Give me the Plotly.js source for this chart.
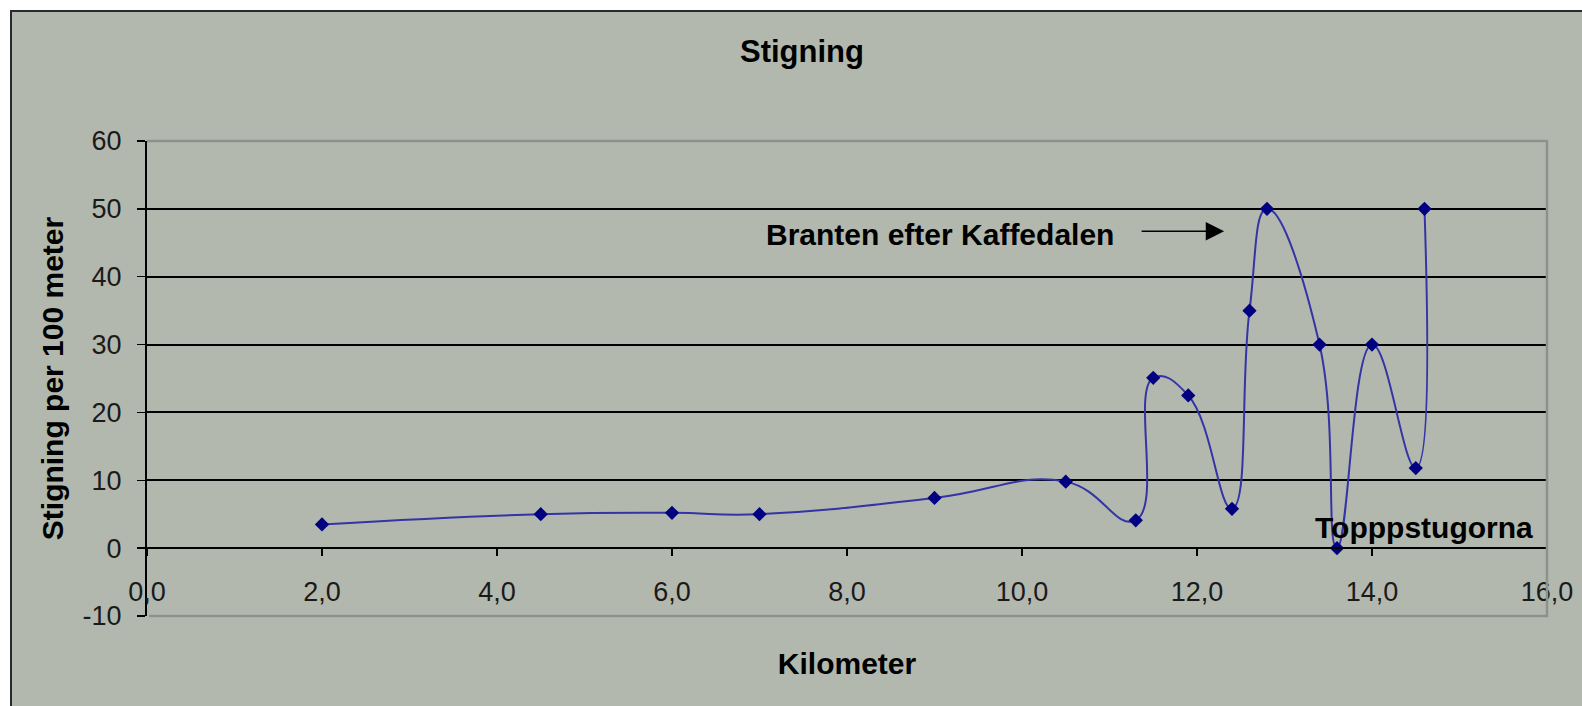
<!DOCTYPE html>
<html>
<head>
<meta charset="utf-8">
<script src="https://cdn.plot.ly/plotly-3.0.1.min.js"></script>
<style>html,body{margin:0;padding:0;background:#fff;}#chart{width:1582px;height:706px;}</style>
</head>
<body>
<div id="chart"></div>
<script>
// Data
const kilometer = [2.0, 4.5, 6.0, 7.0, 9.0, 10.5, 11.3, 11.5, 11.9, 12.4, 12.6, 12.8, 13.4, 13.6, 14.0, 14.5, 14.6];
const stigning  = [3.5, 5.0, 5.2, 5.0, 7.4, 9.8, 4.1, 25.1, 22.5, 5.8, 35.0, 50.0, 30.0, 0.0, 30.0, 11.8, 50.0];

const yTickVals   = [-10, 0, 10, 20, 30, 40, 50, 60];
const yTickLabels = ['-10', '0', '10', '20', '30', '40', '50', '60'];

const chartTitle = 'Stigning';
const xTitle = 'Kilometer';
const yTitle = 'Stigning per 100 meter';
const noteBranten = 'Branten efter Kaffedalen';
const noteTopp = 'Topppstugorna';

const FONT = '"Liberation Sans", Arial, sans-serif';
const BG = '#b2b8ae';

const W = 1582, H = 706;
const M = {l: 147, r: 35, t: 141, b: 90};
const pw = W - M.l - M.r, ph = H - M.t - M.b;
const px = X => (X - M.l) / pw;          // pixel -> paper x
const py = Y => (H - M.b - Y) / ph;      // pixel -> paper y

const trace = {
  x: kilometer, y: stigning,
  type: 'scatter', mode: 'lines+markers',
  line: {shape: 'spline', smoothing: 1.3, color: '#3434a6', width: 2},
  marker: {symbol: 'diamond', size: 11, color: '#000080'},
  hoverinfo: 'x+y'
};

const boldFont = {family: FONT, size: 30, weight: 700, color: '#000'};

const layout = {
  width: W, height: H,
  margin: M,
  paper_bgcolor: '#ffffff',
  plot_bgcolor: BG,
  separators: ', ',
  showlegend: false,
  font: {family: FONT, color: '#000'},
  title: {
    text: chartTitle,
    font: {family: FONT, size: 31, weight: 700, color: '#000'},
    x: 802 / W, xref: 'container', xanchor: 'center',
    y: 1 - 51 / H, yref: 'container', yanchor: 'middle'
  },
  xaxis: {
    range: [0, 16], dtick: 2, tick0: 0, tickformat: '.1f',
    anchor: 'free', position: 1 / 7,
    showline: true, linecolor: '#000', linewidth: 2,
    ticks: 'outside', ticklen: 7, tickwidth: 1.5, tickcolor: '#000',
    ticklabelstandoff: 12,
    tickfont: {family: FONT, size: 27, color: '#1a1a1a'},
    showgrid: false, zeroline: false,
    title: {text: xTitle, font: boldFont, standoff: 46},
    automargin: false
  },
  yaxis: {
    range: [-10, 60], tickvals: yTickVals, ticktext: yTickLabels,
    showline: true, linecolor: '#000', linewidth: 2,
    ticks: 'outside', ticklen: 8, tickwidth: 1.5, tickcolor: '#000',
    ticklabelstandoff: 10,
    tickfont: {family: FONT, size: 27, color: '#1a1a1a'},
    showgrid: true, gridcolor: '#000', gridwidth: 2,
    zeroline: false,
    title: {text: yTitle, font: boldFont, standoff: 10},
    automargin: false
  },
  shapes: [
    // chart area background and frame
    {type: 'rect', xref: 'paper', yref: 'paper', layer: 'below',
     x0: px(11), x1: px(1600), y0: py(720), y1: py(11),
     fillcolor: BG, line: {color: '#2a2a2a', width: 2}},
    // plot area border (top, right, bottom)
    {type: 'path', xref: 'paper', yref: 'paper', layer: 'above',
     path: 'M 0,1 L 1,1 L 1,0 L 0.0015,0',
     line: {color: '#8d928a', width: 2.5}}
  ],
  annotations: [
    {text: noteBranten, xref: 'x', yref: 'y', x: 9.06, y: 46.2,
     showarrow: false, xanchor: 'center', yanchor: 'middle', font: boldFont},
    {text: '', xref: 'x', yref: 'y', axref: 'x', ayref: 'y',
     x: 12.31, y: 46.7, ax: 11.35, ay: 46.7,
     showarrow: true, arrowhead: 2, arrowsize: 2.3, arrowwidth: 1.6, arrowcolor: '#000', standoff: 0},
    {text: noteTopp, xref: 'x', yref: 'y', x: 14.59, y: 3.0,
     showarrow: false, xanchor: 'center', yanchor: 'middle', font: boldFont}
  ]
};

Plotly.newPlot('chart', [trace], layout, {displayModeBar: false, staticPlot: true});
</script>
</body>
</html>
